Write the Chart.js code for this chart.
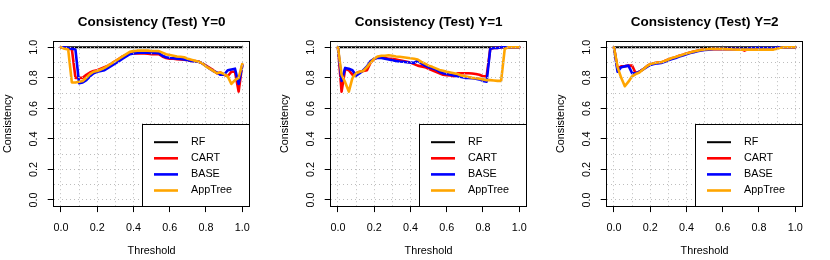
<!DOCTYPE html>
<html>
<head>
<meta charset="utf-8">
<script src="https://cdn.jsdelivr.net/npm/chart.js@4.4.1/dist/chart.umd.min.js"></script>
<style>
  html, body { margin: 0; padding: 0; background: #fff; }
  #wrap { position: relative; width: 830px; height: 260px; }
  canvas { position: absolute; top: 0; }
</style>
</head>
<body>
<div id="wrap">
  <canvas id="chartY0" width="277" height="260" style="left:0px"></canvas>
  <canvas id="chartY1" width="277" height="260" style="left:277px"></canvas>
  <canvas id="chartY2" width="277" height="260" style="left:553px"></canvas>
</div>
<script>
const thresholds = [0.00, 0.02, 0.04, 0.06, 0.08, 0.10, 0.12, 0.14, 0.16, 0.18,
  0.20, 0.22, 0.24, 0.26, 0.28, 0.30, 0.32, 0.34, 0.36, 0.38,
  0.40, 0.42, 0.44, 0.46, 0.48, 0.50, 0.52, 0.54, 0.56, 0.58,
  0.60, 0.62, 0.64, 0.66, 0.68, 0.70, 0.72, 0.74, 0.76, 0.78,
  0.80, 0.82, 0.84, 0.86, 0.88, 0.90, 0.92, 0.94, 0.96, 0.98, 1.00];

const seriesNames = ['RF', 'CART', 'BASE', 'AppTree'];
const seriesColors = ['#000000', '#ff0000', '#0000ff', '#ffa500'];
const panelTitles = ['Consistency (Test) Y=0', 'Consistency (Test) Y=1', 'Consistency (Test) Y=2'];
const gridTicks = [0, 0.1, 0.2, 0.3, 0.4, 0.5, 0.6, 0.7, 0.8, 0.9, 1.0];
const labelTicks = [0, 0.2, 0.4, 0.6, 0.8, 1.0];

const rfValues = [1, 1, 1, 1, 1, 1, 1, 1, 1, 1,
  1, 1, 1, 1, 1, 1, 1, 1, 1, 1,
  1, 1, 1, 1, 1, 1, 1, 1, 1, 1,
  1, 1, 1, 1, 1, 1, 1, 1, 1, 1,
  1, 1, 1, 1, 1, 1, 1, 1, 1, 1, 1];

// Y=0
const cartY0 = [1.00, 1.00, 0.99, 0.99, 0.80, 0.80, 0.80, 0.82, 0.835, 0.845,
  0.85, 0.86, 0.87, 0.88, 0.895, 0.91, 0.925, 0.94, 0.95, 0.96,
  0.96, 0.96, 0.96, 0.96, 0.958, 0.955, 0.955, 0.955, 0.94, 0.93,
  0.925, 0.925, 0.922, 0.92, 0.918, 0.915, 0.91, 0.91, 0.905, 0.895,
  0.88, 0.865, 0.85, 0.83, 0.835, 0.82, 0.81, 0.84, 0.84, 0.71, 0.885];
const baseY0 = [1.00, 1.00, 0.995, 0.99, 0.985, 0.765, 0.77, 0.785, 0.81, 0.83,
  0.84, 0.845, 0.85, 0.865, 0.88, 0.895, 0.91, 0.925, 0.94, 0.955,
  0.96, 0.963, 0.965, 0.965, 0.965, 0.963, 0.963, 0.962, 0.945, 0.935,
  0.93, 0.928, 0.926, 0.923, 0.92, 0.915, 0.91, 0.908, 0.905, 0.895,
  0.878, 0.86, 0.845, 0.835, 0.82, 0.82, 0.85, 0.855, 0.86, 0.76, 0.88];
const appY0 = [1.00, 0.99, 0.985, 0.77, 0.77, 0.775, 0.78, 0.80, 0.825, 0.84,
  0.845, 0.855, 0.865, 0.88, 0.895, 0.91, 0.925, 0.94, 0.955, 0.97,
  0.975, 0.978, 0.978, 0.978, 0.978, 0.976, 0.976, 0.975, 0.965, 0.955,
  0.95, 0.945, 0.94, 0.938, 0.935, 0.925, 0.918, 0.912, 0.905, 0.895,
  0.875, 0.86, 0.845, 0.83, 0.835, 0.825, 0.81, 0.76, 0.785, 0.80, 0.89];

// Y=1
const cartY1 = [1.00, 0.71, 0.86, 0.85, 0.82, 0.83, 0.84, 0.845, 0.85, 0.90,
  0.925, 0.935, 0.935, 0.93, 0.925, 0.925, 0.92, 0.915, 0.91, 0.905,
  0.90, 0.89, 0.88, 0.875, 0.87, 0.86, 0.85, 0.84, 0.83, 0.82,
  0.817, 0.815, 0.81, 0.83, 0.83, 0.83, 0.83, 0.828, 0.825, 0.82,
  0.81, 0.81, 0.99, 0.995, 0.995, 1.00, 1.00, 1.00, 1.00, 1.00, 1.00];
const baseY1 = [1.00, 0.78, 0.865, 0.86, 0.85, 0.815, 0.83, 0.85, 0.875, 0.91,
  0.925, 0.932, 0.93, 0.925, 0.92, 0.915, 0.91, 0.907, 0.905, 0.902,
  0.90, 0.898, 0.912, 0.895, 0.88, 0.87, 0.862, 0.855, 0.84, 0.83,
  0.825, 0.82, 0.815, 0.81, 0.805, 0.80, 0.80, 0.797, 0.795, 0.79,
  0.78, 0.775, 0.99, 0.995, 0.995, 1.00, 1.00, 1.00, 1.00, 1.00, 1.00];
const appY1 = [1.00, 0.82, 0.77, 0.71, 0.80, 0.83, 0.84, 0.845, 0.87, 0.90,
  0.925, 0.94, 0.945, 0.945, 0.948, 0.945, 0.94, 0.938, 0.935, 0.932,
  0.928, 0.925, 0.92, 0.905, 0.893, 0.88, 0.872, 0.862, 0.852, 0.847,
  0.84, 0.835, 0.83, 0.825, 0.815, 0.81, 0.805, 0.80, 0.797, 0.795,
  0.79, 0.785, 0.785, 0.783, 0.78, 0.78, 0.99, 1.00, 1.00, 1.00, 1.00];

// Y=2
const cartY2 = [1.00, 0.86, 0.875, 0.877, 0.88, 0.88, 0.83, 0.84, 0.855, 0.875,
  0.89, 0.895, 0.90, 0.90, 0.91, 0.92, 0.928, 0.935, 0.945, 0.952,
  0.96, 0.966, 0.972, 0.978, 0.982, 0.985, 0.987, 0.988, 0.988, 0.988,
  0.988, 0.988, 0.988, 0.988, 0.988, 0.988, 0.978, 0.988, 0.99, 0.99,
  0.99, 0.99, 0.99, 0.99, 0.99, 0.995, 1.00, 1.00, 1.00, 1.00, 1.00];
const baseY2 = [1.00, 0.84, 0.87, 0.875, 0.88, 0.83, 0.83, 0.84, 0.855, 0.87,
  0.885, 0.89, 0.895, 0.897, 0.905, 0.915, 0.923, 0.93, 0.94, 0.947,
  0.955, 0.962, 0.968, 0.974, 0.979, 0.983, 0.985, 0.987, 0.99, 0.99,
  0.99, 0.99, 0.99, 0.99, 0.99, 0.99, 0.99, 0.992, 0.995, 0.995,
  0.995, 0.995, 0.995, 0.995, 0.995, 0.998, 1.00, 1.00, 1.00, 1.00, 1.00];
const appY2 = [1.00, 0.87, 0.80, 0.745, 0.775, 0.81, 0.825, 0.835, 0.855, 0.875,
  0.89, 0.895, 0.90, 0.902, 0.91, 0.92, 0.93, 0.937, 0.945, 0.952,
  0.96, 0.966, 0.972, 0.977, 0.982, 0.986, 0.988, 0.99, 0.99, 0.99,
  0.99, 0.988, 0.987, 0.986, 0.985, 0.985, 0.985, 0.985, 0.985, 0.985,
  0.985, 0.985, 0.985, 0.985, 0.985, 0.99, 0.998, 1.00, 1.00, 1.00, 1.00];

const textColor = '#000';
const fontFamily = '"Liberation Sans", Arial, Helvetica, sans-serif';
const gridColor = '#bdbdbd';

Chart.defaults.font.family = fontFamily;
Chart.defaults.color = textColor;

const isLabelTick = function (v) {
  return labelTicks.some(t => Math.abs(t - v) < 1e-9);
};

// box round the plot, y labels turned like R does, and the legend
const RBoxLegend = {
  id: 'rBoxLegend',
  afterDraw(chart) {
    const ctx = chart.ctx;
    const a = chart.chartArea;
    const yScale = chart.scales.y;
    ctx.save();

    ctx.fillStyle = textColor;
    ctx.font = '10.8px ' + fontFamily;
    ctx.textAlign = 'center';
    ctx.textBaseline = 'middle';
    yScale.ticks.forEach(t => {
      if (!isLabelTick(t.value)) return;
      ctx.save();
      ctx.translate(34.3, yScale.getPixelForValue(t.value));
      ctx.rotate(-Math.PI / 2);
      ctx.fillText(t.value.toFixed(1), 0, 0);
      ctx.restore();
    });

    const bl = Math.floor(a.left) + 0.5;
    const br = Math.floor(a.right) + 0.5;
    const bt = Math.floor(a.top) + 0.5;
    const bb = Math.floor(a.bottom) + 0.5;
    ctx.strokeStyle = '#000';
    ctx.lineWidth = 1;
    ctx.strokeRect(bl, bt, br - bl, bb - bt);

    const lw = 107;
    const lh = 82;
    const lx = br - lw;
    const ly = bb - lh;
    ctx.fillStyle = '#fff';
    ctx.fillRect(lx, ly, lw, lh);
    ctx.strokeRect(lx, ly, lw, lh);
    chart.data.datasets.forEach((ds, i) => {
      const rowY = ly + 17.7 + i * 16.1;
      ctx.strokeStyle = ds.borderColor;
      ctx.lineWidth = ds.borderWidth;
      ctx.beginPath();
      ctx.moveTo(lx + 11.5, rowY);
      ctx.lineTo(lx + 35.5, rowY);
      ctx.stroke();
      ctx.fillStyle = textColor;
      ctx.textAlign = 'left';
      ctx.fillText(ds.label, lx + 48.5, rowY);
    });
    ctx.restore();
  }
};

const makeAxis = function (extra) {
  return Object.assign({
    type: 'linear',
    min: -0.04,
    max: 1.04,
    bounds: 'data',
    afterBuildTicks: scale => { scale.ticks = gridTicks.map(v => ({ value: v })); },
    grid: {
      z: 1,
      color: gridColor,
      lineWidth: 1,
      tickLength: 6,
      tickWidth: 1,
      tickColor: c => (c.tick && isLabelTick(c.tick.value)) ? '#000' : 'rgba(0,0,0,0)'
    },
    border: { display: false, dash: [1, 3] }
  }, extra);
};

const DrawPanel = function (canvasId, title, cart, base, app) {
  const seriesList = [rfValues, cart, base, app];
  const datasets = seriesList.map((values, i) => ({
    label: seriesNames[i],
    data: thresholds.map((t, j) => ({ x: t, y: values[j] })),
    borderColor: seriesColors[i],
    backgroundColor: seriesColors[i],
    borderWidth: i === 0 ? 2 : 2.6,
    borderJoinStyle: 'round',
    borderCapStyle: 'round',
    pointRadius: 0,
    tension: 0,
    order: seriesList.length - i
  }));

  const config = {
    type: 'line',
    data: { datasets: datasets },
    options: {
      responsive: false,
      animation: false,
      devicePixelRatio: 1,
      layout: { padding: { left: 0, right: 27.5, top: 0, bottom: 0 } },
      plugins: {
        legend: { display: false },
        tooltip: { enabled: false },
        title: {
          display: true,
          text: title,
          fullSize: false,
          color: textColor,
          font: { size: 13.5, weight: 'bold' },
          padding: { top: 13.8, bottom: 11.2 }
        }
      },
      scales: {
        x: makeAxis({
          position: 'bottom',
          afterFit: scale => { scale.height = 53.9; },
          ticks: {
            autoSkip: false,
            maxRotation: 0,
            minRotation: 0,
            padding: 9.4,
            color: textColor,
            font: { size: 10.8 },
            callback: v => isLabelTick(v) ? v.toFixed(1) : ''
          },
          title: {
            display: true,
            text: 'Threshold',
            color: textColor,
            font: { size: 10.8 },
            padding: { top: 0, bottom: 2 }
          }
        }),
        y: makeAxis({
          position: 'left',
          afterFit: scale => { scale.width = 53.7; },
          ticks: {
            color: 'rgba(0,0,0,0)',
            padding: 0,
            font: { size: 10.8 },
            callback: v => isLabelTick(v) ? v.toFixed(1) : ''
          },
          title: {
            display: true,
            text: 'Consistency',
            color: textColor,
            font: { size: 10.8 },
            padding: { top: 2, bottom: 0 }
          }
        })
      }
    },
    plugins: [RBoxLegend]
  };

  return new Chart(document.getElementById(canvasId), config);
};

DrawPanel('chartY0', panelTitles[0], cartY0, baseY0, appY0);
DrawPanel('chartY1', panelTitles[1], cartY1, baseY1, appY1);
DrawPanel('chartY2', panelTitles[2], cartY2, baseY2, appY2);
</script>
</body>
</html>
